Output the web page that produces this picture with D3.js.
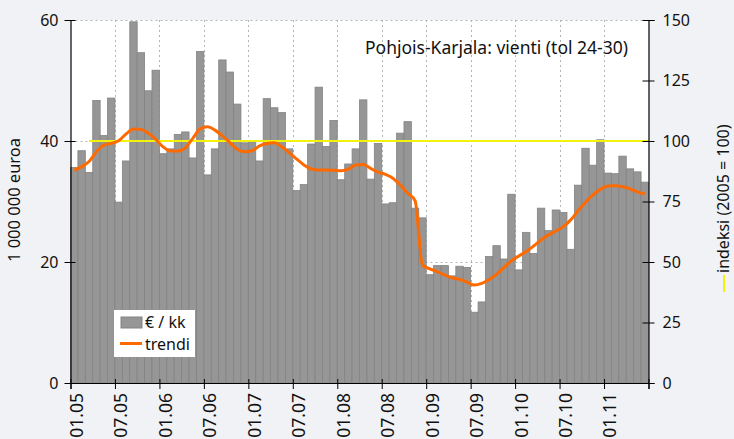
<!DOCTYPE html>
<html>
<head>
<meta charset="utf-8">
<script src="https://cdn.jsdelivr.net/npm/d3@7/dist/d3.min.js"></script>
<style>
  html, body { margin: 0; padding: 0; background: #f1f2f5; }
  svg { display: block; }
  text { font-family: "Noto Sans", "Open Sans", sans-serif; fill: #111; }
</style>
</head>
<body>
<svg id="chart" width="734" height="439"></svg>
<script>
// ---- data ----
const months = [
  "01.05","02.05","03.05","04.05","05.05","06.05","07.05","08.05","09.05","10.05","11.05","12.05",
  "01.06","02.06","03.06","04.06","05.06","06.06","07.06","08.06","09.06","10.06","11.06","12.06",
  "01.07","02.07","03.07","04.07","05.07","06.07","07.07","08.07","09.07","10.07","11.07","12.07",
  "01.08","02.08","03.08","04.08","05.08","06.08","07.08","08.08","09.08","10.08","11.08","12.08",
  "01.09","02.09","03.09","04.09","05.09","06.09","07.09","08.09","09.09","10.09","11.09","12.09",
  "01.10","02.10","03.10","04.10","05.10","06.10","07.10","08.10","09.10","10.10","11.10","12.10",
  "01.11","02.11","03.11","04.11","05.11","06.11"
];
// € / kk, 1 000 000 euroa (left axis)
const values = [
  35.6, 38.4, 34.8, 46.7, 40.9, 47.1, 29.9, 36.7, 59.7, 54.6, 48.3, 51.7,
  37.9, 38.7, 41.1, 41.5, 37.2, 54.8, 34.4, 38.7, 53.4, 51.4, 46.1, 39.7,
  39.8, 36.7, 47.0, 45.5, 44.7, 38.7, 31.8, 32.8, 39.5, 48.9, 39.1, 43.4,
  33.6, 36.2, 38.7, 46.8, 33.7, 39.6, 29.6, 29.8, 41.3, 43.2, 28.9, 27.3,
  17.9, 19.4, 19.4, 17.7, 19.3, 19.1, 11.7, 13.4, 20.9, 22.7, 20.5, 31.2,
  18.7, 24.9, 21.4, 28.9, 25.2, 28.6, 28.2, 22.1, 32.7, 38.8, 36.0, 40.2,
  34.7, 34.6, 37.5, 35.4, 34.9, 33.2
];
// trendi, indeksi 2005 = 100 (right axis)
const trend = [
  87.9, 89.4, 91.5, 95.6, 98.3, 99.0, 100.1, 102.9, 105.0, 104.8, 103.2, 100.7,
  97.6, 95.9, 95.9, 97.2, 101.1, 105.0, 105.9, 104.5, 102.1, 99.3, 96.6, 95.6,
  96.0, 98.0, 99.0, 99.3, 97.6, 95.2, 92.6, 90.1, 88.4, 88.0, 88.0, 87.9,
  87.7, 88.4, 90.1, 90.3, 88.7, 87.1, 86.2, 84.6, 81.8, 78.4, 75.3, 48.6,
  47.2, 46.0, 44.6, 43.5, 42.8, 41.7, 40.5, 41.2, 42.8, 44.9, 47.8, 50.5,
  52.5, 54.3, 56.6, 59.1, 61.2, 62.8, 64.6, 67.4, 71.2, 74.7, 77.7, 80.0,
  81.4, 81.5, 81.1, 80.2, 79.0, 78.1
];
const xTickLabels = ["01.05","07.05","01.06","07.06","01.07","07.07","01.08","07.08","01.09","07.09","01.10","07.10","01.11"];
const leftTicks = [0, 20, 40, 60];
const rightTicks = [0, 25, 50, 75, 100, 125, 150];
const indexBase = 100;
const title = "Pohjois-Karjala: vienti (tol 24-30)";
const leftTitle = "1 000 000 euroa";
const rightTitle = "indeksi (2005 = 100)";
const legendLabels = ["€ / kk", "trendi"];

// ---- layout ----
const L = 70.5, R = 648.5, T = 20, B = 383;
const svg = d3.select("#chart");

const x = d3.scaleBand().domain(months).range([L, R]).padding(0);
const y = d3.scaleLinear().domain([0, 60]).range([B, T]);
const yR = d3.scaleLinear().domain([0, 150]).range([B, T]);

// plot background
svg.append("rect").attr("x", L).attr("y", T).attr("width", R - L).attr("height", B - T).attr("fill", "#fff");

// grid
const grid = svg.append("g").attr("stroke", "#b4b4b4").attr("stroke-dasharray", "2,3").attr("stroke-width", 1);
xTickLabels.forEach(lab => {
  const xx = Math.round(x(lab)) + 0.5;
  if (xx > L + 1) grid.append("line").attr("x1", xx).attr("x2", xx).attr("y1", T).attr("y2", B);
});
leftTicks.filter(v => v > 0).forEach(v => {
  grid.append("line").attr("x1", L).attr("x2", R).attr("y1", Math.round(y(v)) + 0.5).attr("y2", Math.round(y(v)) + 0.5);
});

// bars
svg.append("g").selectAll("rect").data(values).join("rect")
  .attr("x", (d, i) => x(months[i]))
  .attr("y", d => y(d))
  .attr("width", x.bandwidth())
  .attr("height", d => B - y(d))
  .attr("fill", "#969696")
  .attr("stroke", "#838383")
  .attr("stroke-width", 0.8);

// index line 100
svg.append("line")
  .attr("x1", x(months[2]) + x.bandwidth() / 2).attr("x2", R)
  .attr("y1", yR(indexBase)).attr("y2", yR(indexBase))
  .attr("stroke", "#f2f20a").attr("stroke-width", 2);

// trend
const line = d3.line()
  .x((d, i) => x(months[i]) + x.bandwidth() / 2)
  .y(d => yR(d))
  .curve(d3.curveMonotoneX);
svg.append("path").datum(trend).attr("d", line)
  .attr("fill", "none").attr("stroke", "#ff6a00").attr("stroke-width", 3)
  .attr("stroke-linejoin", "round");

// axes
const xl = d3.scaleLinear().domain([0, months.length]).range([L, R]);
const xAxis = d3.axisBottom(xl)
  .tickValues(d3.range(0, months.length + 1, 6))
  .tickFormat(i => xTickLabels[i / 6] || "")
  .tickSize(6);
const gx = svg.append("g").attr("transform", `translate(0,${B})`).call(xAxis);
gx.select(".domain").attr("stroke", "#000").attr("stroke-width", 1.2);
gx.selectAll(".tick line").attr("y1", -4).attr("y2", 6).attr("stroke", "#000");
gx.selectAll(".tick text")
  .attr("font-family", "'Liberation Sans', Arial, sans-serif")
  .attr("font-size", 17.5)
  .attr("fill", "#111")
  .attr("text-anchor", "end")
  .attr("transform", "translate(0,10) rotate(-90)")
  .attr("x", 0).attr("y", 0).attr("dy", "0.68em");

const yAxisL = d3.axisLeft(y).tickValues(leftTicks).tickSize(5).tickPadding(7);
const gl = svg.append("g").attr("transform", `translate(${L},0)`).call(yAxisL);
gl.select(".domain").attr("stroke", "#000").attr("stroke-width", 1.2);
gl.selectAll(".tick line").attr("x1", -6).attr("x2", 5).attr("stroke", "#000");
gl.selectAll(".tick text").attr("font-size", 16).attr("font-family", "'Noto Sans', sans-serif").attr("fill", "#111");

const yAxisR = d3.axisRight(yR).tickValues(rightTicks).tickSize(6).tickPadding(8);
const gr = svg.append("g").attr("transform", `translate(${R},0)`).call(yAxisR);
gr.select(".domain").attr("stroke", "#000").attr("stroke-width", 1.2);
gr.selectAll(".tick line").attr("x1", -6).attr("x2", 6).attr("stroke", "#000");
gr.selectAll(".tick text").attr("font-size", 16).attr("font-family", "'Noto Sans', sans-serif").attr("fill", "#111");

// title
svg.append("text").attr("x", 628).attr("y", 54).attr("text-anchor", "end")
  .attr("font-size", 17.5).text(title);

// axis titles
svg.append("text").attr("transform", "translate(20,200) rotate(-90)")
  .attr("text-anchor", "middle").attr("font-size", 16.5).text(leftTitle);
const rt = svg.append("g").attr("transform", "translate(729,292) rotate(-90)");
rt.append("line").attr("x1", 0).attr("x2", 17).attr("y1", -5).attr("y2", -5)
  .attr("stroke", "#f2f20a").attr("stroke-width", 2);
rt.append("text").attr("x", 19).attr("y", 0).attr("font-size", 16).text(rightTitle);

// legend
const lg = svg.append("g");
lg.append("rect").attr("x", 114).attr("y", 310).attr("width", 81).attr("height", 47).attr("fill", "#fff");
lg.append("rect").attr("x", 121).attr("y", 317).attr("width", 21).attr("height", 11)
  .attr("fill", "#969696").attr("stroke", "#838383");
lg.append("text").attr("x", 145).attr("y", 328).attr("font-size", 16).text(legendLabels[0]);
lg.append("line").attr("x1", 120).attr("x2", 142).attr("y1", 343.5).attr("y2", 343.5)
  .attr("stroke", "#ff6a00").attr("stroke-width", 3);
lg.append("text").attr("x", 145).attr("y", 350).attr("font-size", 16).text(legendLabels[1]);
</script>
</body>
</html>
